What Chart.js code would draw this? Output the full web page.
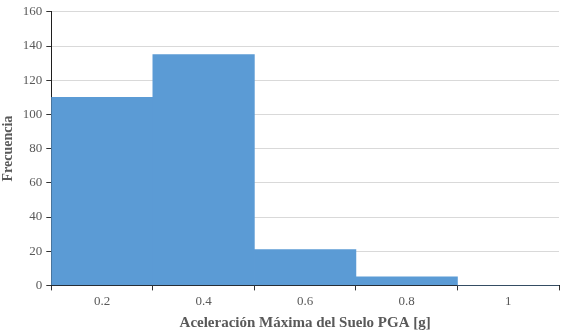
<!DOCTYPE html>
<html>
<head>
<meta charset="utf-8">
<script src="https://cdn.jsdelivr.net/npm/chart.js@4"></script>
<style>
  html, body { margin: 0; padding: 0; background: #fff; }
  #wrap { width: 569px; height: 336px; }
</style>
</head>
<body>
<div id="wrap"><canvas id="histChart"></canvas></div>
<script>
// bin centres (g) and counts
const pgaBins = ['0.2', '0.4', '0.6', '0.8', '1'];
const counts = [110, 135, 21, 5, 0];

const serif = "'Liberation Serif', 'Times New Roman', serif";

new Chart(document.getElementById('histChart'), {
    type: 'bar',
    data: {
        labels: pgaBins,
        datasets: [{
            label: 'Frecuencia',
            data: counts,
            backgroundColor: '#5b9bd5',
            borderWidth: 0,
            barPercentage: 1,
            categoryPercentage: 1
        }]
    },
    options: {
        responsive: true,
        maintainAspectRatio: false,
        animation: false,
        layout: { padding: { top: 3, right: 10, bottom: 4, left: 0 } },
        plugins: {
            legend: { display: false },
            tooltip: { enabled: false }
        },
        scales: {
            x: {
                offset: true,
                grid: {
                    offset: true,
                    drawOnChartArea: false,
                    tickLength: 5,
                    tickColor: '#333',
                    color: '#333'
                },
                border: { color: '#1f1f1f', width: 1 },
                ticks: { color: '#595959', font: { family: serif, size: 13 }, padding: 3 },
                title: {
                    display: true,
                    text: 'Aceleración Máxima del Suelo PGA [g]',
                    color: '#595959',
                    font: { family: serif, size: 15, weight: 'bold' },
                    padding: { top: 2, bottom: 0 }
                }
            },
            y: {
                min: 0,
                max: 160,
                ticks: { stepSize: 20, color: '#595959', font: { family: serif, size: 13 }, padding: 4 },
                grid: { color: '#d9d9d9', tickColor: '#333', tickLength: 5 },
                border: { color: '#1f1f1f', width: 1 },
                title: {
                    display: true,
                    text: 'Frecuencia',
                    color: '#595959',
                    font: { family: serif, size: 14, weight: 'bold' },
                    padding: { top: 0, bottom: 2 }
                }
            }
        }
    }
});
</script>
</body>
</html>
